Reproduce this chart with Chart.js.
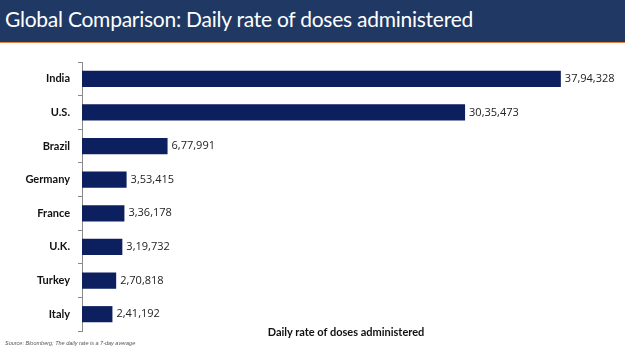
<!DOCTYPE html>
<html>
<head>
<meta charset="utf-8">
<script src="https://cdn.jsdelivr.net/npm/chart.js@4"></script>
<style>
  html, body { margin: 0; padding: 0; background: #fff; }
  #wrap { position: relative; width: 625px; height: 351px; overflow: hidden; }
  #titlebar { position: absolute; left: 0; top: 0; width: 625px; height: 42px; background: #1f3864; border-bottom: 1px solid #e8823f; }
  #title { position: absolute; left: 5px; top: 6px; color: #fff; font-family: Lato, "Open Sans", sans-serif; font-size: 21px; letter-spacing: -0.25px; white-space: nowrap; }
  #xtitle { position: absolute; left: 0; width: 692px; text-align: center; top: 325px; font-family: Lato, "Open Sans", sans-serif; font-weight: bold; font-size: 11px; color: #111; }
  #source { position: absolute; left: 5px; top: 340px; font-family: "Liberation Sans", sans-serif; font-style: italic; font-size: 5.5px; color: #555; }
  canvas { position: absolute; left: 0; top: 0; }
</style>
</head>
<body>
<div id="wrap">
  <canvas id="c" width="625" height="351"></canvas>
  <div id="titlebar"><div id="title">Global Comparison: Daily rate of doses administered</div></div>
  <div id="xtitle">Daily rate of doses administered</div>
  <div id="source">Source: Bloomberg; The daily rate is a 7-day average</div>
</div>
<script>
const categories = ["India", "U.S.", "Brazil", "Germany", "France", "U.K.", "Turkey", "Italy"];
const dailyDoses = [3794328, 3035473, 677991, 353415, 336178, 319732, 270818, 241192];

function formatIndian(n) {
  const s = String(Math.round(n));
  if (s.length <= 3) return s;
  const last3 = s.slice(-3);
  let rest = s.slice(0, -3);
  const parts = [];
  while (rest.length > 2) { parts.unshift(rest.slice(-2)); rest = rest.slice(0, -2); }
  if (rest.length) parts.unshift(rest);
  return parts.join(",") + "," + last3;
}

const valueLabels = {
  id: "valueLabels",
  afterDatasetsDraw(chart) {
    const ctx = chart.ctx;
    const meta = chart.getDatasetMeta(0);
    ctx.save();
    ctx.font = "11px 'Open Sans', 'Liberation Sans', sans-serif";
    ctx.fillStyle = "#222";
    ctx.textAlign = "left";
    ctx.textBaseline = "middle";
    meta.data.forEach((bar, i) => {
      ctx.fillText(formatIndian(chart.data.datasets[0].data[i]), bar.x + 4, bar.y);
    });
    ctx.restore();
  }
};

new Chart(document.getElementById("c"), {
  type: "bar",
  data: {
    labels: categories,
    datasets: [{
      data: dailyDoses,
      backgroundColor: "#0c1f5e",
      borderWidth: 0,
      barPercentage: 0.48,
      categoryPercentage: 1.0
    }]
  },
  options: {
    indexAxis: "y",
    responsive: false,
    animation: false,
    layout: { padding: { top: 62, bottom: 20, left: 0, right: 17 } },
    plugins: { legend: { display: false }, tooltip: { enabled: false } },
    scales: {
      x: { display: false, min: 0, max: 4168000 },
      y: {
        afterFit(scale) { scale.width = 82; },
        border: { display: true, color: "#8a8a8a", width: 1 },
        grid: { display: true, drawOnChartArea: false, drawTicks: true, tickLength: 4, color: "#8a8a8a", offset: true },
        ticks: { color: "#111", padding: 8, font: { family: "Lato, 'Open Sans', sans-serif", size: 11, weight: "bold" } }
      }
    }
  },
  plugins: [valueLabels]
});
</script>
</body>
</html>
